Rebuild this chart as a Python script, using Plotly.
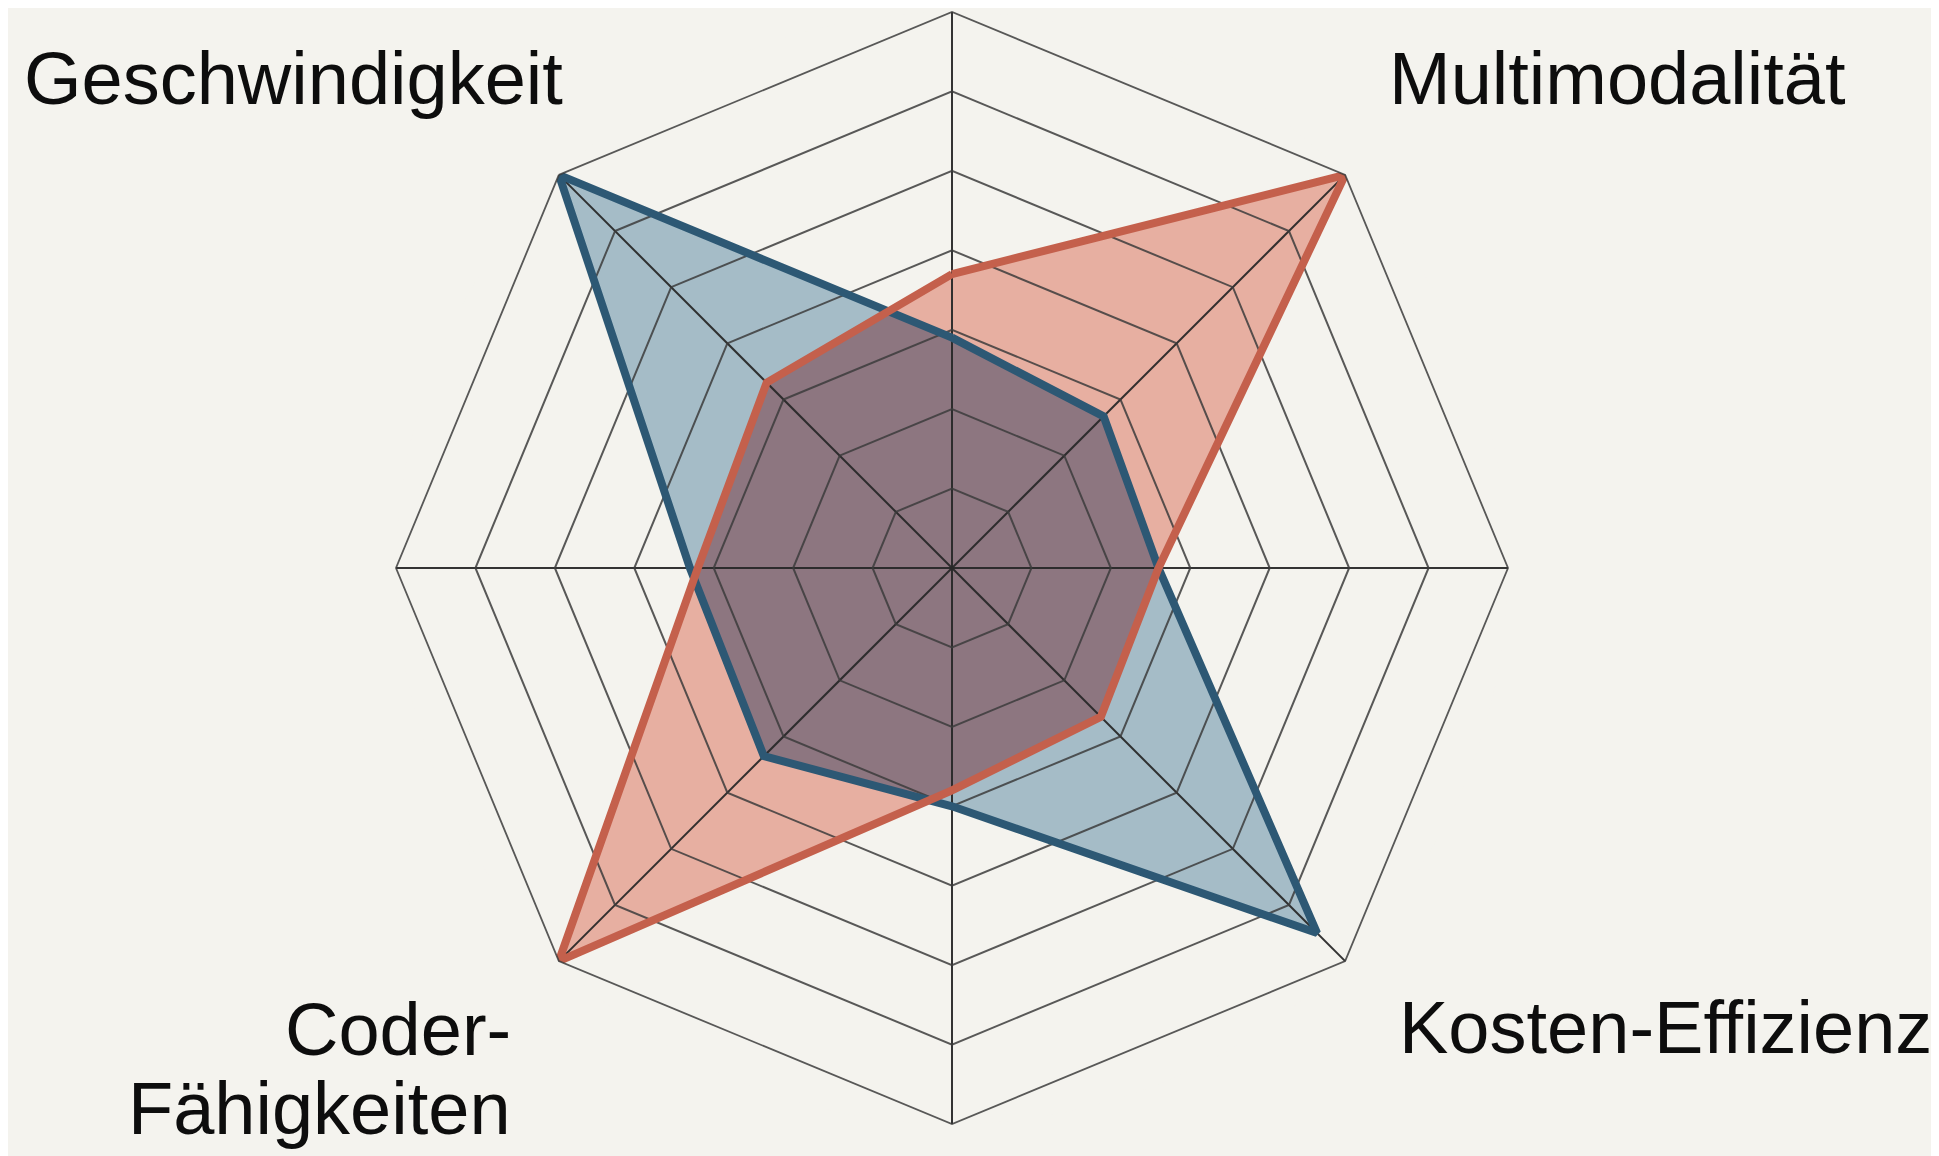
import numpy as np
import plotly.graph_objects as go

# Axes (clockwise from top); only the diagonal axes carry labels
axes = ["Achse N", "Multimodalität", "Achse O", "Kosten-Effizienz",
        "Achse S", "Coder-Fähigkeiten", "Achse W", "Geschwindigkeit"]
blue_values = [2.9, 2.7, 2.6, 6.5, 3.0, 3.35, 3.3, 7.0]
red_values = [3.7, 7.0, 2.6, 2.65, 2.8, 7.0, 3.2, 3.3]
ring_ticks = [1, 2, 3, 4, 5, 6, 7]

BG = "#F4F3EE"
W, H = 1939, 1156
cx, cy, R = 944, 560, 556

n = len(axes)
theta = [i * 360.0 / n for i in range(n)]


def overlap_polygon(ra, rb, th):
    """Polar polygon bounding the intersection of two radar polygons."""
    out_r, out_t = [], []
    m = len(ra)
    for i in range(m):
        j = (i + 1) % m
        t0, t1 = np.radians(th[i]), np.radians(th[i] + 360.0 / m)
        out_r.append(min(ra[i], rb[i]))
        out_t.append(th[i])
        d0, d1 = ra[i] - rb[i], ra[j] - rb[j]
        if d0 * d1 < 0:
            a0 = np.array([ra[i] * np.cos(t0), ra[i] * np.sin(t0)])
            a1 = np.array([ra[j] * np.cos(t1), ra[j] * np.sin(t1)])
            b0 = np.array([rb[i] * np.cos(t0), rb[i] * np.sin(t0)])
            b1 = np.array([rb[j] * np.cos(t1), rb[j] * np.sin(t1)])
            M = np.column_stack([a1 - a0, -(b1 - b0)])
            ts = np.linalg.solve(M, b0 - a0)
            p = a0 + ts[0] * (a1 - a0)
            out_r.append(float(np.hypot(*p)))
            out_t.append(float(np.degrees(np.arctan2(p[1], p[0])) % 360))
    out_r.append(out_r[0])
    out_t.append(out_t[0])
    return out_r, out_t


ov_r, ov_t = overlap_polygon(blue_values, red_values, theta)

fig = go.Figure()
# fills (bottom polar subplot, numeric angles)
fig.add_trace(go.Scatterpolar(r=blue_values + blue_values[:1], theta=theta + theta[:1],
                              mode="lines", fill="toself", line=dict(width=0),
                              fillcolor="rgb(165,188,199)", hoverinfo="skip", subplot="polar"))
fig.add_trace(go.Scatterpolar(r=red_values + red_values[:1], theta=theta + theta[:1],
                              mode="lines", fill="toself", line=dict(width=0),
                              fillcolor="rgb(231,175,161)", hoverinfo="skip", subplot="polar"))
fig.add_trace(go.Scatterpolar(r=ov_r, theta=ov_t, mode="lines", fill="toself",
                              line=dict(width=0), fillcolor="rgb(141,118,128)",
                              hoverinfo="skip", subplot="polar"))
# outlines (top polar subplot, category axes with octagonal grid)
fig.add_trace(go.Scatterpolar(r=blue_values + blue_values[:1], theta=axes + axes[:1],
                              mode="lines", line=dict(color="#2D5874", width=8),
                              name="Blau", subplot="polar2"))
fig.add_trace(go.Scatterpolar(r=red_values + red_values[:1], theta=axes + axes[:1],
                              mode="lines", line=dict(color="#C4604C", width=8),
                              name="Rot", subplot="polar2"))

domain = dict(x=[(cx - R) / W, (cx + R) / W], y=[(H - cy - R) / H, (H - cy + R) / H])
GRID = "rgba(60,60,60,0.85)"

fig.update_layout(
    width=W, height=H,
    margin=dict(l=0, r=0, t=0, b=0),
    paper_bgcolor=BG, plot_bgcolor=BG,
    showlegend=False,
    polar=dict(
        bgcolor=BG,
        domain=domain,
        radialaxis=dict(range=[0, 7], visible=False, showgrid=False),
        angularaxis=dict(type="linear", thetaunit="degrees", rotation=90, direction="clockwise",
                         visible=False, showgrid=False, showline=False),
    ),
    polar2=dict(
        bgcolor="rgba(0,0,0,0)",
        gridshape="linear",
        domain=domain,
        radialaxis=dict(range=[0, 7], tickvals=ring_ticks, showticklabels=False, ticks="",
                        showline=False, gridcolor=GRID, gridwidth=1.8),
        angularaxis=dict(type="category", categoryarray=axes, rotation=90, direction="clockwise",
                         showticklabels=False, ticks="", showline=True,
                         linecolor=GRID, linewidth=1.8,
                         gridcolor="rgba(40,40,40,0.95)", gridwidth=1.6),
    ),
)

font = dict(family="Liberation Sans, Arial, sans-serif", size=74, color="#0d0d0d")
fig.add_annotation(x=557 / W, y=1 - 70 / H, xref="paper", yref="paper", text="Geschwindigkeit",
                   showarrow=False, xanchor="right", yanchor="middle", font=font)
fig.add_annotation(x=1840 / W, y=1 - 70 / H, xref="paper", yref="paper", text="Multimodalität",
                   showarrow=False, xanchor="right", yanchor="middle", font=font)
fig.add_annotation(x=505 / W, y=1 - 1021 / H, xref="paper", yref="paper", text="Coder-",
                   showarrow=False, xanchor="right", yanchor="middle", font=font)
fig.add_annotation(x=505 / W, y=1 - 1100 / H, xref="paper", yref="paper", text="Fähigkeiten",
                   showarrow=False, xanchor="right", yanchor="middle", font=font)
fig.add_annotation(x=1926 / W, y=1 - 1019 / H, xref="paper", yref="paper", text="Kosten-Effizienz",
                   showarrow=False, xanchor="right", yanchor="middle", font=font)

fig.write_html("out.html")
